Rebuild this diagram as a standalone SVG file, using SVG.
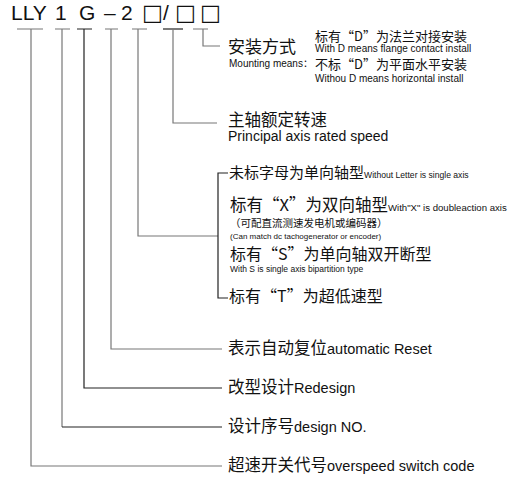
<svg xmlns="http://www.w3.org/2000/svg" width="522" height="478" viewBox="0 0 522 478">
<style>
.hd{font-family:"Liberation Sans",Arial,sans-serif;font-size:21px;fill:#111}
.bx{font-family:"DejaVu Sans",sans-serif;font-size:22px;fill:#111}
.cn{font-family:"Noto Sans CJK SC",sans-serif;fill:#111}
.en{font-family:"Liberation Sans",Arial,"Noto Sans CJK SC",sans-serif;fill:#111}
.q{font-feature-settings:"fwid" 1;font-variant-east-asian:full-width}
.g{stroke:#777;fill:none;stroke-width:1.2}
.k{stroke:#222;fill:none;stroke-width:1.2}
</style>
<rect width="522" height="478" fill="#fff"/>
<g id="code">
<text class="hd" x="11" y="20">LLY</text>
<text class="hd" x="55" y="20">1</text>
<text class="hd" x="79" y="20">G</text>
<text class="hd" x="104" y="20">–</text>
<text class="hd" x="121" y="20">2</text>
<text class="bx" x="142" y="20">□</text>
<text class="hd" x="163" y="20">/</text>
<text class="bx" x="175" y="20">□</text>
<text class="bx" x="200" y="20">□</text>
</g>
<g id="connectors">
<path class="g" d="M17 29H43M31 29V466H222"/>
<path class="g" d="M55 29H70M62 29V427"/>
<path class="k" d="M62 427H222"/>
<path class="k" d="M77 29H92M84 29V388H222"/>
<path class="g" d="M105 29H118M111 29V349H222"/>
<path class="g" d="M132 29H147M138 29V236H218"/>
<path class="k" d="M163 29H183"/>
<path class="g" d="M173 29V123H217"/>
<path class="g" d="M193 29H208M203 29V46H220"/>
<path class="k" d="M228 173H218V298H228"/>
</g>
<g id="mounting">
<text class="cn" x="228" y="53" font-size="17">安装方式</text>
<text class="en" x="229" y="67" font-size="10">Mounting means：</text>
<text class="cn" x="315" y="41" font-size="13">标有<tspan class="q">“</tspan>D<tspan class="q">”</tspan>为法兰对接安装</text>
<text class="en" x="315" y="52" font-size="10">With D means flange contact install</text>
<text class="cn" x="315" y="69" font-size="13">不标<tspan class="q">“</tspan>D<tspan class="q">”</tspan>为平面水平安装</text>
<text class="en" x="315" y="82" font-size="10">Withou D means horizontal install</text>
</g>
<g id="speed">
<text class="cn" x="228" y="126" font-size="16.5">主轴额定转速</text>
<text class="en" x="228" y="141" font-size="14">Principal axis rated speed</text>
</g>
<g id="axis">
<text class="cn" x="229" y="178" font-size="15">未标字母为单向轴型<tspan class="en" font-size="8.6">Without Letter is single axis</tspan></text>
<text class="cn" x="230" y="211" font-size="16.5">标有<tspan class="q">“</tspan>X<tspan class="q">”</tspan>为双向轴型<tspan class="en" font-size="9.6">With"X" is doubleaction axis</tspan></text>
<text class="cn" x="230" y="226.5" font-size="10.5">（可配直流测速发电机或编码器）</text>
<text class="en" x="230" y="239" font-size="8">(Can match dc tachogenerator or encoder)</text>
<text class="cn" x="230" y="260" font-size="16">标有<tspan class="q">“</tspan>S<tspan class="q">”</tspan>为单向轴双开断型</text>
<text class="en" x="230" y="272" font-size="8.5">With S is single axis bipartition type</text>
<text class="cn" x="229" y="302" font-size="16">标有<tspan class="q">“</tspan>T<tspan class="q">”</tspan>为超低速型</text>
</g>
<g id="reset">
<text class="cn" x="228" y="354" font-size="16.5">表示自动复位<tspan class="en" font-size="14.5">automatic Reset</tspan></text>
</g>
<g id="redesign">
<text class="cn" x="228" y="393" font-size="16.5">改型设计<tspan class="en" font-size="14.5">Redesign</tspan></text>
</g>
<g id="designno">
<text class="cn" x="228" y="432" font-size="16.5">设计序号<tspan class="en" font-size="14.5">design NO.</tspan></text>
</g>
<g id="switchcode">
<text class="cn" x="228" y="471" font-size="16.5">超速开关代号<tspan class="en" font-size="14.5">overspeed switch code</tspan></text>
</g>
</svg>
